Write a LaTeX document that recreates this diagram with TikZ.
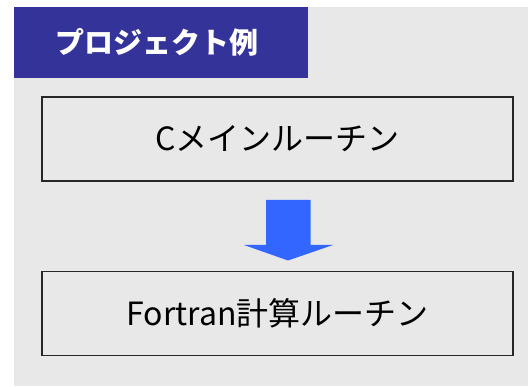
\documentclass[tikz,border=0pt]{standalone}
\usepackage{fontspec}
\newfontfamily\jp{Noto Sans CJK JP}
\definecolor{bgray}{HTML}{E8E8E8}
\definecolor{tblue}{HTML}{333399}
\definecolor{arrblue}{HTML}{3366FF}
\begin{document}
\begin{tikzpicture}[x=1pt,y=-1pt,
  routine/.style={draw=black!85, line width=1.2pt, fill=bgray, minimum width=471pt, minimum height=84pt, inner sep=0pt, font=\jp\fontsize{32}{38}\selectfont},
  titlebox/.style={fill=tblue, minimum width=294pt, minimum height=71pt, inner sep=0pt, text=white, font=\jp\bfseries\fontsize{29}{34}\selectfont}]
\useasboundingbox (0,0) rectangle (528,387);
\fill[white] (0,0) rectangle (528,387);
\fill[bgray] (14,7) rectangle (528,386);
\node[titlebox] (title) at (161,42.5) {\hspace*{-8pt}プロジェクト例};
\node[routine] (cmain) at (277.5,139) {Cメインルーチン};
\node[routine] (fcalc) at (277.5,313.5) {Fortran計算ルーチン};
\fill[arrblue] (266,200) -- (310.5,200) -- (310.5,245) -- (333,245) -- (288,260.5) -- (244,245) -- (266,245) -- cycle;
\end{tikzpicture}
\end{document}
